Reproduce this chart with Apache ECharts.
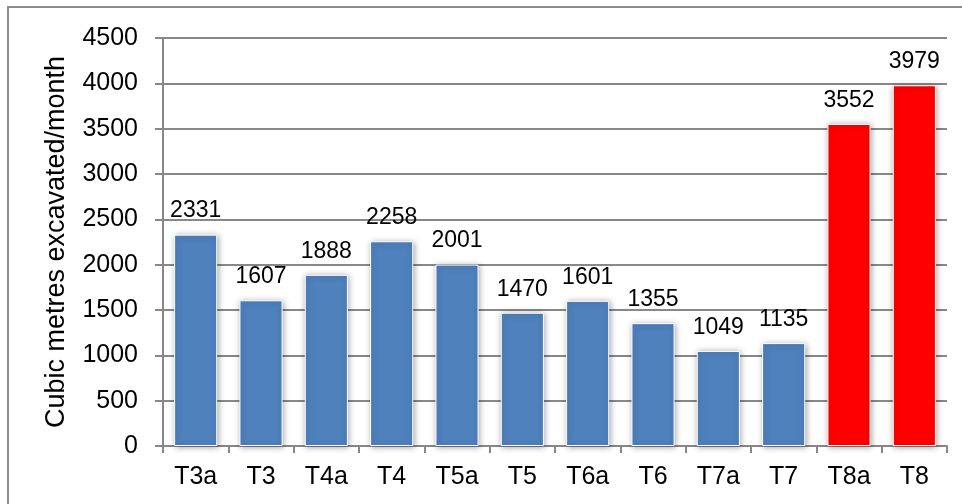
<!DOCTYPE html>
<html>
<head>
<meta charset="utf-8">
<script src="https://cdn.jsdelivr.net/npm/echarts@6/dist/echarts.min.js"></script>
<style>
  html, body { margin: 0; padding: 0; background: #fff; }
  #chart { width: 962px; height: 504px; }
</style>
</head>
<body>
<div id="chart"></div>
<script>
// Monthly excavation volume per tunnel section
const categories = ['T3a', 'T3', 'T4a', 'T4', 'T5a', 'T5', 'T6a', 'T6', 'T7a', 'T7', 'T8a', 'T8'];
const volumes = [2331, 1607, 1888, 2258, 2001, 1470, 1601, 1355, 1049, 1135, 3552, 3979];
const highlighted = ['T8a', 'T8'];
const yTicks = { min: 0, max: 4500, interval: 500 };
const yAxisTitle = 'Cubic metres excavated/month';

const BLUE = '#4F81BD';
const RED = '#FF0000';
const FONT = '"Liberation Sans", Arial, sans-serif';

const chart = echarts.init(document.getElementById('chart'), null, { renderer: 'canvas' });

chart.setOption({
  animation: false,
  backgroundColor: '#ffffff',
  graphic: [{
    type: 'rect',
    shape: { x: 8, y: 7, width: 1100, height: 700 },
    style: { fill: 'none', stroke: '#8c8c8c', lineWidth: 2 },
    silent: true,
    z: -1
  }],
  grid: { left: 163, right: 15, top: 38, bottom: 58, containLabel: false },
  xAxis: {
    type: 'category',
    data: categories,
    axisLine: { lineStyle: { color: '#888888', width: 2 } },
    axisTick: { show: true, length: 7, alignWithLabel: false, lineStyle: { color: '#888888', width: 2 } },
    axisLabel: { color: '#000', fontFamily: FONT, fontSize: 25, margin: 19 },
    splitLine: { show: false }
  },
  yAxis: {
    type: 'value',
    min: yTicks.min,
    max: yTicks.max,
    interval: yTicks.interval,
    name: yAxisTitle,
    nameLocation: 'middle',
    nameGap: 93,
    nameTextStyle: { color: '#000', fontFamily: FONT, fontSize: 27 },
    axisLine: { show: true, lineStyle: { color: '#888888', width: 2 } },
    axisTick: { show: true, length: 8, lineStyle: { color: '#888888', width: 2 } },
    axisLabel: { color: '#000', fontFamily: FONT, fontSize: 25, margin: 25, formatter: v => String(v) },
    splitLine: { show: true, lineStyle: { color: '#888888', width: 2 } }
  },
  series: [{
    type: 'bar',
    barCategoryGap: '34%',
    data: volumes.map((v, i) => ({
      value: v,
      itemStyle: { color: highlighted.includes(categories[i]) ? RED : BLUE }
    })),
    itemStyle: {
      borderColor: '#ffffff',
      borderWidth: 1,
      shadowColor: 'rgba(0,0,0,0.35)',
      shadowBlur: 6,
      shadowOffsetX: 1,
      shadowOffsetY: 1
    },
    label: {
      show: true,
      position: 'top',
      distance: 12,
      color: '#000',
      fontFamily: FONT,
      fontSize: 23
    }
  }]
});
</script>
</body>
</html>
